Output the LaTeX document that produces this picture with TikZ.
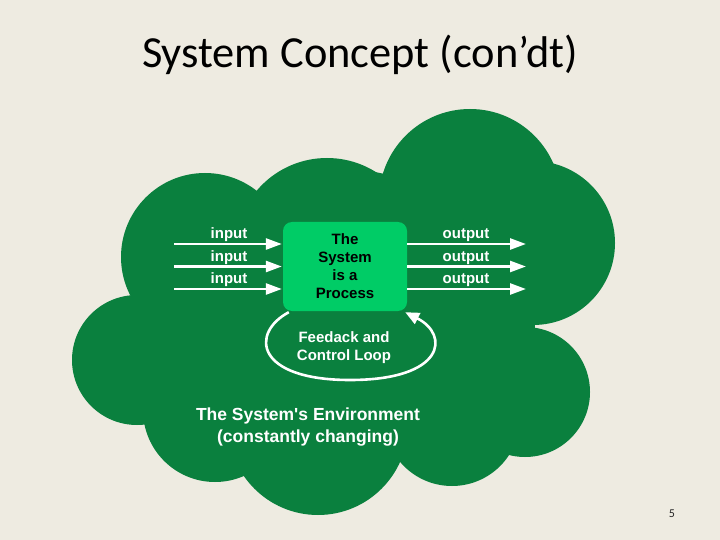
\documentclass[tikz,border=0pt]{standalone}
\usepackage{fontspec}
\newfontfamily\dfont{Liberation Sans}
\newfontfamily\titlefont{Carlito}
\usetikzlibrary{arrows.meta}
\definecolor{bgc}{RGB}{238,235,225}
\definecolor{cloudc}{RGB}{10,128,62}
\definecolor{boxc}{RGB}{0,204,102}
\begin{document}
\begin{tikzpicture}[x=1pt,y=-1pt,
  cloud/.style={fill=cloudc},
  lbl/.style={text=white,font=\dfont\fontsize{15}{18}\selectfont\bfseries,inner sep=0pt},
  envlbl/.style={text=white,font=\dfont\fontsize{17.5}{22}\selectfont\bfseries,align=center,inner sep=0pt},
  flow/.style={draw=white,line width=2.6pt,-{Triangle[length=16pt,width=11pt]}},
  sysbox/.style={fill=boxc,rounded corners=9pt,minimum width=124pt,minimum height=89pt,
    align=center,font=\dfont\fontsize{15}{18}\selectfont\bfseries,text=black,inner sep=0pt}]
\useasboundingbox (0,0) rectangle (720,540);
\fill[bgc] (0,0) rectangle (720,540);
% title
\node[font=\titlefont\fontsize{44.4}{50}\selectfont,text=black] (title) at (360,55) {System Concept (con’dt)};
% cloud
\fill[cloud] (470,200) circle (91pt);
\fill[cloud] (533,243) circle (82pt);
\fill[cloud] (327,250) circle (92pt);
\fill[cloud] (205,257) circle (84pt);
\fill[cloud] (137,360) circle (65pt);
\fill[cloud] (215,410) circle (72pt);
\fill[cloud] (318,425) circle (90pt);
\fill[cloud] (452,418) circle (68pt);
\fill[cloud] (525,392) circle (65pt);
\fill[cloud] (480,330) circle (55pt);
\fill[cloud] (350,320) circle (150pt);
% system box
\node[sysbox] (sys) at (345,266.5) {The\\System\\is a\\Process};
% inputs and outputs
\coordinate (i1) at (174,244);
\coordinate (i2) at (174,266.5);
\coordinate (i3) at (174,289);
\coordinate (o1) at (526,244);
\coordinate (o2) at (526,266.5);
\coordinate (o3) at (526,289);
\draw[flow] (i1) -- ([xshift=-1pt]i1 -| sys.west);
\draw[flow] (i2) -- ([xshift=-1pt]i2 -| sys.west);
\draw[flow] (i3) -- ([xshift=-1pt]i3 -| sys.west);
\draw[flow] (o1 -| sys.east) -- (o1);
\draw[flow] (o2 -| sys.east) -- (o2);
\draw[flow] (o3 -| sys.east) -- (o3);
\node[lbl] (li1) at (229,235) {input};
\node[lbl] (li2) at (229,258) {input};
\node[lbl] (li3) at (229,280) {input};
\node[lbl] (lo1) at (466,235) {output};
\node[lbl] (lo2) at (466,258) {output};
\node[lbl] (lo3) at (466,280) {output};
% feedback loop
\coordinate (fbs) at ([xshift=6pt,yshift=-1pt]sys.south west);
\coordinate (fbe) at ([xshift=-2pt,yshift=-1pt]sys.south east);
\draw[draw=white,line width=2.6pt,-{Triangle[length=14pt,width=12pt]}]
  (fbs) .. controls (250,333) and (255,380) .. (350,380)
  .. controls (445,380) and (450,335) .. (fbe);
\node[lbl,align=center] (fb) at (344,348) {Feedack and\\Control Loop};
% environment
\node[envlbl] (env) at (308,427) {The System's Environment\\(constantly changing)};
% page number
\node[font=\titlefont\fontsize{12}{14}\selectfont,text=black!85] (pg) at (672,514) {5};
\end{tikzpicture}
\end{document}
